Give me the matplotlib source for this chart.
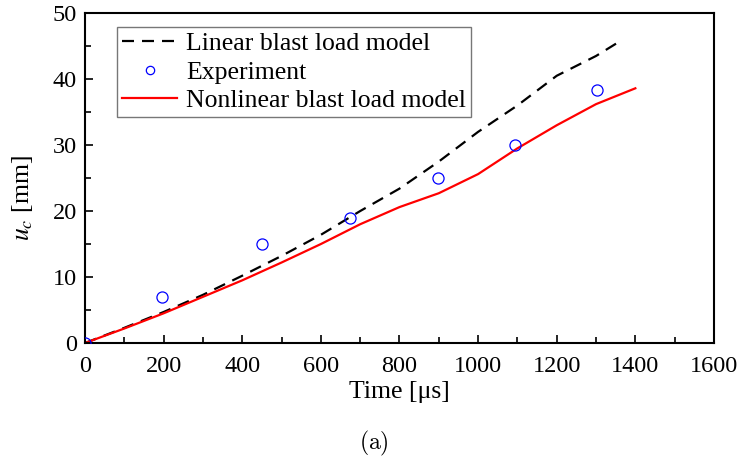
import numpy as np
import matplotlib
matplotlib.use('Agg')
from matplotlib import pyplot as plt
from matplotlib.ticker import MultipleLocator

# displacement histories, time in microseconds, u_c in mm
t_linear = [0, 100, 200, 300, 400, 500, 600, 700, 800, 900, 1000, 1100, 1200, 1300, 1360]
u_linear = [0, 2.3, 4.7, 7.3, 10.2, 13.2, 16.4, 20.0, 23.4, 27.5, 32.0, 36.0, 40.5, 43.5, 45.7]

t_nonlinear = [0, 100, 200, 300, 400, 500, 600, 700, 800, 900, 1000, 1100, 1200, 1300, 1400]
u_nonlinear = [0, 2.2, 4.5, 7.0, 9.5, 12.2, 15.0, 18.0, 20.6, 22.7, 25.6, 29.5, 33.0, 36.2, 38.6]

t_exp = [0, 195, 450, 675, 898, 1095, 1302]
u_exp = [0, 7.0, 15.0, 19.0, 25.0, 30.0, 38.3]

plt.rcParams['font.family'] = ['Liberation Serif', 'DejaVu Serif']
plt.rcParams['mathtext.fontset'] = 'stix'

fig = plt.figure(figsize=(7.42, 4.67), dpi=100)
ax = fig.add_axes([0.1146, 0.2655, 0.8476, 0.7065])

ax.plot(t_linear, u_linear, '--', color='black', lw=1.6, dashes=(5.4, 3.6),
        label='Linear blast load model')
ax.plot(t_exp, u_exp, 'o', mfc='none', mec='blue', ms=8, mew=0.9,
        zorder=5, label='Experiment')
ax.plot(t_nonlinear, u_nonlinear, '-', color='red', lw=1.6,
        label='Nonlinear blast load model')

ax.set_xlim(0, 1600)
ax.set_ylim(0, 50)
ax.xaxis.set_major_locator(MultipleLocator(200))
ax.xaxis.set_minor_locator(MultipleLocator(100))
ax.yaxis.set_major_locator(MultipleLocator(10))
ax.yaxis.set_minor_locator(MultipleLocator(5))
ax.tick_params(which='both', direction='in', top=False, right=False,
               labelsize=17.5, width=1.2)
ax.tick_params(which='major', length=6)
ax.tick_params(axis='x', which='major', pad=9)
ax.tick_params(axis='y', which='major', pad=6)
ax.tick_params(which='minor', length=4)
for s in ax.spines.values():
    s.set_linewidth(1.5)

ax.set_xlabel('Time [\u03bcs]', fontsize=18.5)
ax.set_ylabel('$u_c$ [mm]', fontsize=18.5)
ax.xaxis.set_label_coords(0.5, -0.115)
ax.yaxis.set_label_coords(-0.08, 0.44)

leg = ax.legend(loc='upper left', bbox_to_anchor=(0.051, 0.958), fontsize=18.5,
                handlelength=2.15, handletextpad=0.35, labelspacing=0.22,
                borderpad=0.2, borderaxespad=0, markerscale=0.75,
                fancybox=False, framealpha=1)
leg.get_frame().set_edgecolor('#777777')
leg.get_frame().set_linewidth(1.0)

fig.text(0.504, 0.038, r'$\mathrm{(a)}$', ha='center', fontsize=17,
         math_fontfamily='cm')

fig.savefig('out.png', dpi=100)
